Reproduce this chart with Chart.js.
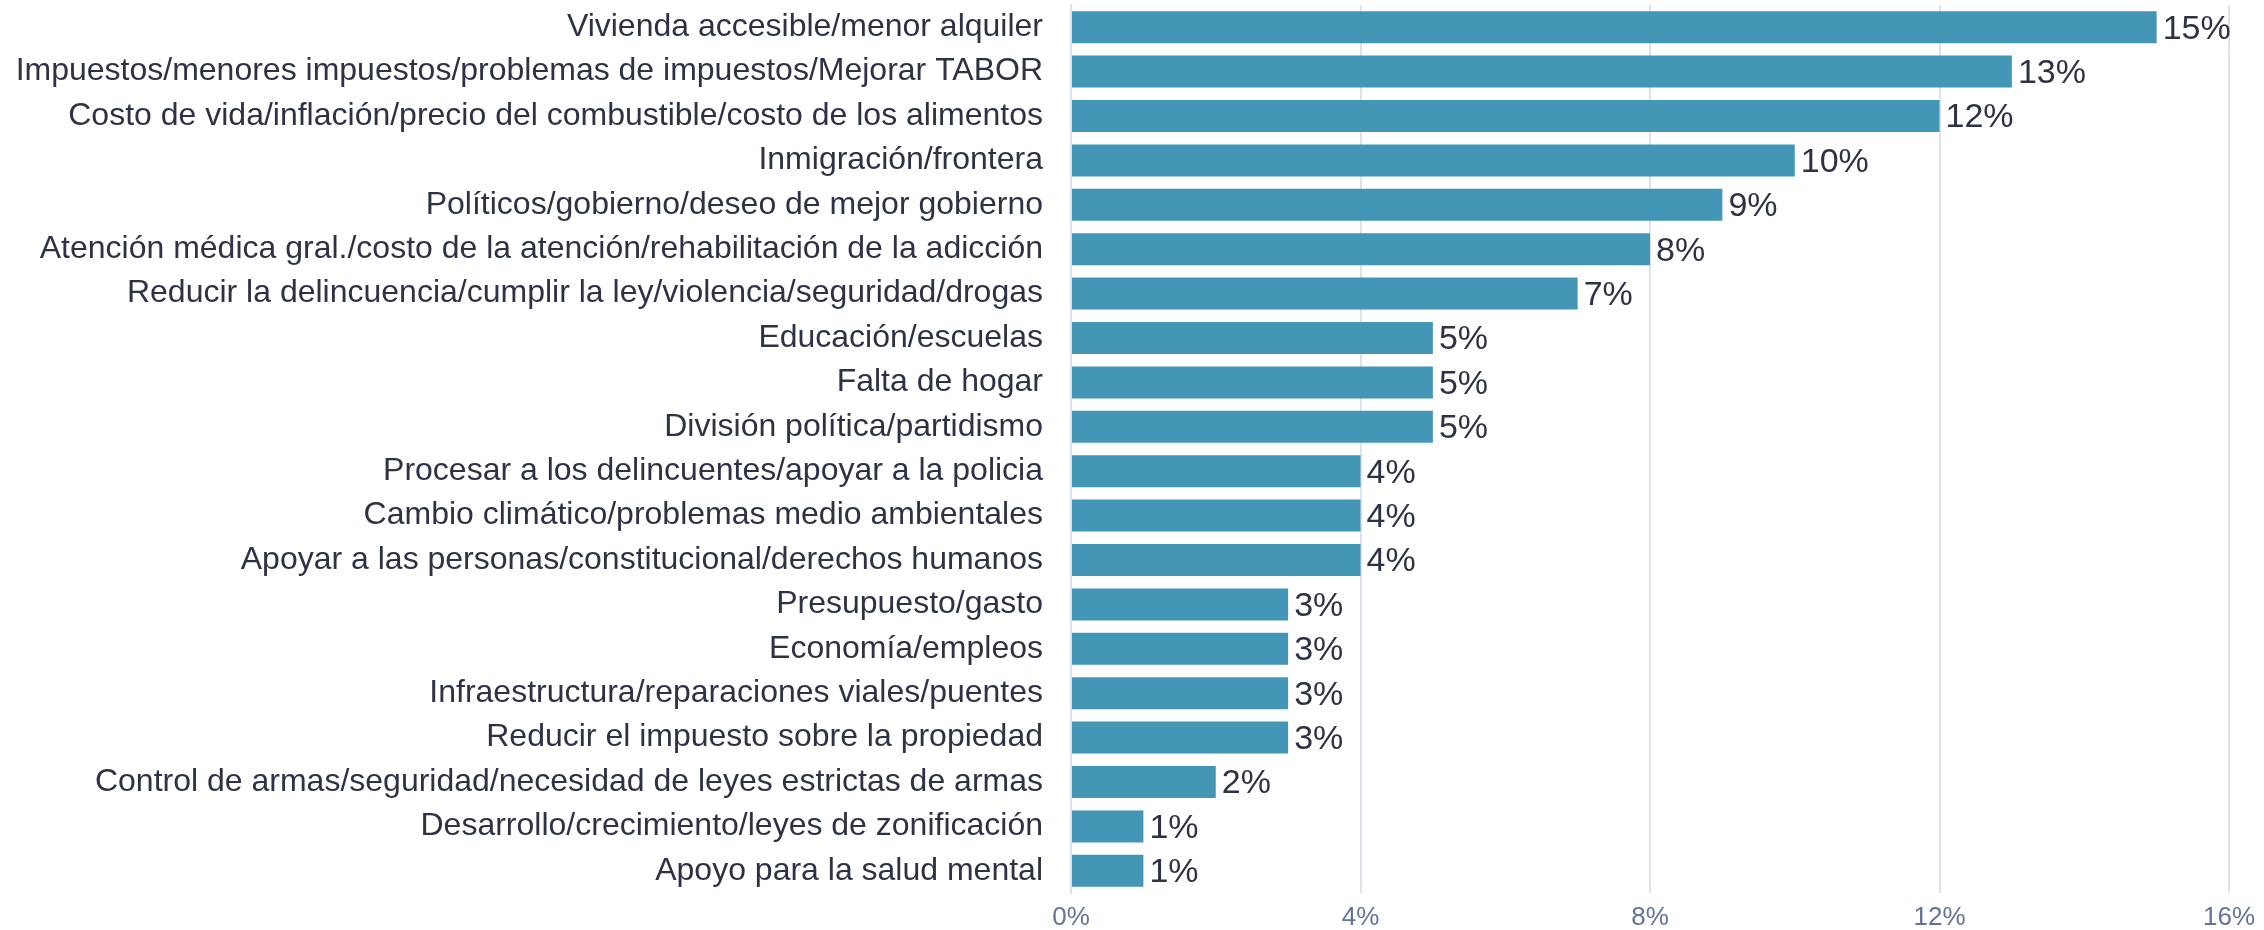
<!DOCTYPE html>
<html>
<head>
<meta charset="utf-8">
<script src="https://cdn.jsdelivr.net/npm/chart.js@4/dist/chart.umd.min.js"></script>
<style>
    html, body { margin: 0; padding: 0; background: #fff; }
    #wrap { width: 2264px; height: 930px; }
</style>
</head>
<body>
<div id="wrap"><canvas id="issues"></canvas></div>
<script>
const categories = [
    "Vivienda accesible/menor alquiler",
    "Impuestos/menores impuestos/problemas de impuestos/Mejorar TABOR",
    "Costo de vida/inflación/precio del combustible/costo de los alimentos",
    "Inmigración/frontera",
    "Políticos/gobierno/deseo de mejor gobierno",
    "Atención médica gral./costo de la atención/rehabilitación de la adicción",
    "Reducir la delincuencia/cumplir la ley/violencia/seguridad/drogas",
    "Educación/escuelas",
    "Falta de hogar",
    "División política/partidismo",
    "Procesar a los delincuentes/apoyar a la policia",
    "Cambio climático/problemas medio ambientales",
    "Apoyar a las personas/constitucional/derechos humanos",
    "Presupuesto/gasto",
    "Economía/empleos",
    "Infraestructura/reparaciones viales/puentes",
    "Reducir el impuesto sobre la propiedad",
    "Control de armas/seguridad/necesidad de leyes estrictas de armas",
    "Desarrollo/crecimiento/leyes de zonificación",
    "Apoyo para la salud mental",
];
const shares = [15, 13, 12, 10, 9, 8, 7, 5, 5, 5, 4, 4, 4, 3, 3, 3, 3, 2, 1, 1];
const xTicks = [0, 4, 8, 12, 16];

const FONT = "'Liberation Sans', Arial, Helvetica, sans-serif";

// draws "15%" etc. just past the end of each bar
const barValueLabels = {
    id: "barValueLabels",
    afterDatasetsDraw(chart) {
        const ctx = chart.ctx;
        const meta = chart.getDatasetMeta(0);
        ctx.save();
        ctx.font = "34px " + FONT;
        ctx.fillStyle = "#2e3245";
        ctx.textAlign = "left";
        ctx.textBaseline = "middle";
        meta.data.forEach((bar, i) => {
            ctx.fillText(shares[i] + "%", bar.x + 6, bar.y + 2);
        });
        ctx.restore();
    },
};

new Chart(document.getElementById("issues"), {
    type: "bar",
    data: {
        labels: categories,
        datasets: [
            {
                data: shares,
                backgroundColor: "#4396b6",
                borderWidth: 0,
                barPercentage: 0.72,
                categoryPercentage: 1,
            },
        ],
    },
    options: {
        indexAxis: "y",
        responsive: true,
        maintainAspectRatio: false,
        animation: false,
        layout: {
            padding: { top: 5, right: 35, bottom: 0, left: 0 },
        },
        plugins: {
            legend: { display: false },
            tooltip: { enabled: false },
        },
        scales: {
            x: {
                min: 0,
                max: 16,
                afterBuildTicks: (scale) => {
                    scale.ticks = xTicks.map((v) => ({ value: v }));
                },
                afterFit: (scale) => {
                    scale.height = 37;
                    scale.paddingLeft = 0;
                    scale.paddingRight = 0;
                },
                grid: {
                    color: "#dde1ea",
                    lineWidth: 2,
                    drawTicks: false,
                },
                border: { display: false },
                ticks: {
                    color: "#65739a",
                    padding: 9,
                    font: { family: FONT, size: 26 },
                    callback: (v) => v + "%",
                },
            },
            y: {
                afterFit: (scale) => {
                    scale.width = 1071;
                    scale.paddingTop = 0;
                    scale.paddingBottom = 0;
                },
                grid: { display: false, drawTicks: false },
                border: { color: "#dde1ea", width: 2 },
                ticks: {
                    color: "#2e3245",
                    padding: 28,
                    autoSkip: false,
                    font: { family: FONT, size: 32 },
                },
            },
        },
    },
    plugins: [barValueLabels],
});
</script>
</body>
</html>
